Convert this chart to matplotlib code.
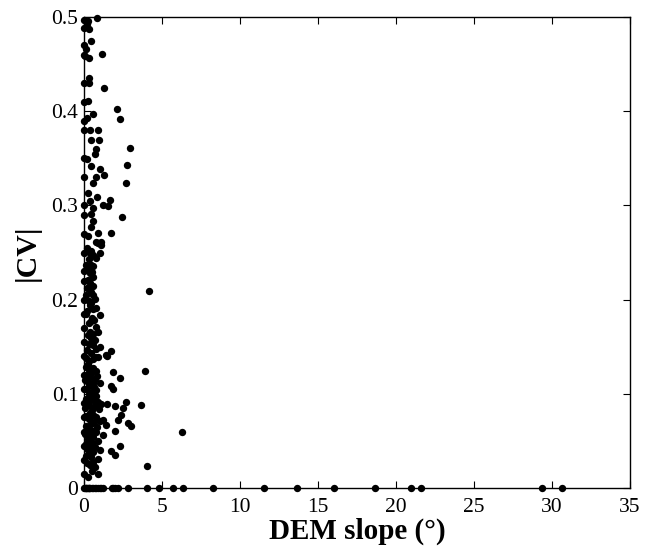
import matplotlib
matplotlib.use("Agg")
import matplotlib.pyplot as plt

plt.rcParams['font.family'] = ['Liberation Serif', 'DejaVu Serif']

# Points sitting on the zero line (|CV| = 0)
zero_x = [0.0, 0.05, 0.1, 0.15, 0.2, 0.25, 0.3, 0.35, 0.4, 0.5, 0.6, 0.7, 0.8,
          0.9, 1.0, 1.1, 1.2, 1.77, 1.85, 1.99, 2.2, 2.84, 4.06, 4.78, 5.73,
          6.35, 8.27, 11.56, 13.63, 16.03, 18.65, 20.96, 21.58, 29.34, 30.66]
zero_y = [0.0] * len(zero_x)

# Points close to the vertical axis (slope ~ 0)
axis_x = [0.02, 0.0, 0.03, 0.0, 0.02, 0.0, 0.03, 0.0, 0.02, 0.0, 0.03, 0.0,
          0.02, 0.0, 0.03, 0.0, 0.02, 0.0, 0.03, 0.0, 0.02, 0.0, 0.03, 0.0,
          0.02, 0.0, 0.03, 0.0, 0.02]
axis_y = [0.497, 0.488, 0.470, 0.460, 0.430, 0.410, 0.390, 0.380, 0.350, 0.330,
          0.300, 0.290, 0.270, 0.250, 0.230, 0.220, 0.200, 0.185, 0.170, 0.155,
          0.140, 0.120, 0.105, 0.090, 0.075, 0.060, 0.045, 0.030, 0.015]

# Upper scattered points
upper_x = [0.85, 0.26, 0.21, 0.32, 0.47, 0.13, 0.32, 0.08, 1.15, 0.32, 0.32,
           1.28, 0.26, 2.13, 2.31, 0.58, 0.17, 0.36, 0.90, 0.47, 0.94, 2.93,
           0.79, 0.68, 0.21, 2.78, 0.47, 1.00, 1.26, 0.79, 0.58, 2.71, 0.26,
           0.85, 1.69, 0.36, 1.22, 1.54, 0.58, 0.47, 2.44, 0.58, 0.47, 0.26,
           0.90, 1.75, 0.79, 1.11]
upper_y = [0.499, 0.496, 0.493, 0.487, 0.474, 0.466, 0.456, 0.459, 0.461, 0.435,
           0.430, 0.425, 0.411, 0.402, 0.392, 0.397, 0.393, 0.380, 0.380, 0.369,
           0.369, 0.361, 0.360, 0.355, 0.349, 0.343, 0.342, 0.339, 0.332, 0.330,
           0.324, 0.324, 0.313, 0.309, 0.306, 0.305, 0.300, 0.299, 0.297, 0.291,
           0.288, 0.283, 0.277, 0.268, 0.271, 0.271, 0.261, 0.261]

# Middle column
mid_x = [0.90, 1.11, 0.36, 1.00, 0.79, 0.15, 0.47, 0.36, 0.58, 0.26, 4.15,
         0.47, 0.15, 0.68, 0.36, 0.79, 0.15, 1.00, 0.47, 0.79, 0.36, 0.90,
         0.47, 0.58, 1.00, 1.75, 1.43, 0.47, 0.90,
         0.20, 0.45, 0.60, 0.30, 0.55, 0.25, 0.50, 0.40, 0.60, 0.20, 0.55,
         0.30, 0.45, 0.60, 0.20, 0.50, 0.30, 0.65, 0.25, 0.55, 0.70, 0.30,
         0.20, 0.75]
mid_y = [0.260, 0.258, 0.250, 0.249, 0.244, 0.237, 0.237, 0.228, 0.224, 0.221,
         0.209, 0.208, 0.205, 0.201, 0.194, 0.191, 0.185, 0.184, 0.177, 0.171,
         0.166, 0.166, 0.159, 0.152, 0.150, 0.145, 0.141, 0.143, 0.139,
         0.255, 0.252, 0.247, 0.243, 0.236, 0.232, 0.229, 0.218, 0.214, 0.212,
         0.205, 0.199, 0.196, 0.190, 0.188, 0.181, 0.175, 0.178, 0.162, 0.163,
         0.157, 0.153, 0.146, 0.148]

# Lower dense cluster
low_x = [0.15, 0.35, 0.55, 0.68, 1.49, 0.25,
         0.10, 0.30, 0.45, 0.60, 0.20, 0.75, 1.86, 3.89, 2.29,
         0.05, 0.25, 0.40, 0.55, 0.70, 1.00, 0.85,
         0.15, 0.30, 0.50, 0.65, 0.80, 1.75, 1.86, 0.35,
         0.10, 0.25, 0.45, 0.60, 0.75, 0.90, 0.20,
         0.05, 0.30, 0.50, 0.70, 0.95, 1.10, 1.49, 1.97, 2.71, 2.50, 3.67, 0.40,
         0.15, 0.35, 0.55, 0.80, 1.00, 1.22, 2.39, 2.18, 0.65,
         0.10, 0.30, 0.45, 0.60, 0.85, 1.43, 2.82, 2.99, 1.97, 6.28,
         0.05, 0.25, 0.40, 0.55, 0.75, 1.22, 0.90,
         0.15, 0.35, 0.50, 0.70, 1.00, 2.29, 0.20,
         0.30, 0.45, 0.60, 0.90, 1.75, 1.97, 0.10,
         0.20, 0.40, 0.55, 4.06, 0.70,
         0.26, 0.90, 0.50]
low_y = [0.138, 0.135, 0.137, 0.139, 0.140, 0.132,
         0.128, 0.125, 0.122, 0.127, 0.120, 0.124, 0.123, 0.124, 0.117,
         0.115, 0.113, 0.118, 0.112, 0.116, 0.111, 0.119,
         0.105, 0.108, 0.102, 0.107, 0.104, 0.108, 0.105, 0.100,
         0.095, 0.092, 0.097, 0.093, 0.098, 0.091, 0.090,
         0.085, 0.088, 0.083, 0.087, 0.084, 0.089, 0.089, 0.087, 0.091, 0.085, 0.088, 0.080,
         0.076, 0.073, 0.078, 0.075, 0.071, 0.072, 0.077, 0.072, 0.070,
         0.066, 0.063, 0.068, 0.061, 0.065, 0.067, 0.069, 0.066, 0.061, 0.060,
         0.057, 0.052, 0.058, 0.054, 0.059, 0.056, 0.050,
         0.047, 0.043, 0.048, 0.044, 0.040, 0.045, 0.041,
         0.037, 0.033, 0.038, 0.031, 0.039, 0.035, 0.034,
         0.027, 0.024, 0.028, 0.023, 0.022,
         0.012, 0.015, 0.018]

x_ticks = [0, 5, 10, 15, 20, 25, 30, 35]
y_ticks = [0, 0.1, 0.2, 0.3, 0.4, 0.5]
y_ticklabels = ['0', '0.1', '0.2', '0.3', '0.4', '0.5']

fig = plt.figure(figsize=(6.53, 5.52), dpi=100)
ax = fig.add_axes([0.1286, 0.1159, 0.836, 0.8533])

for xs, ys in [(zero_x, zero_y), (axis_x, axis_y), (upper_x, upper_y),
               (mid_x, mid_y), (low_x, low_y)]:
    ax.plot(xs, ys, 'o', color='black', markersize=5.3, markeredgewidth=0,
            clip_on=False, zorder=3)

ax.set_xlim(0, 35)
ax.set_ylim(0, 0.5)
ax.set_xticks(x_ticks)
ax.set_xticklabels([str(t) for t in x_ticks])
ax.set_yticks(y_ticks)
ax.set_yticklabels(y_ticklabels)
ax.tick_params(direction='in', top=True, right=True, length=5, width=0.8,
               labelsize=15.5)
ax.tick_params(axis='x', pad=7)
ax.tick_params(axis='y', pad=4)
for s in ax.spines.values():
    s.set_linewidth(1.0)

ax.set_xlabel('DEM slope (°)', fontsize=21, fontweight='bold', labelpad=1)
ax.set_ylabel('|CV|', fontsize=21.5, fontweight='bold', labelpad=8)

fig.savefig('out.png', dpi=100)
